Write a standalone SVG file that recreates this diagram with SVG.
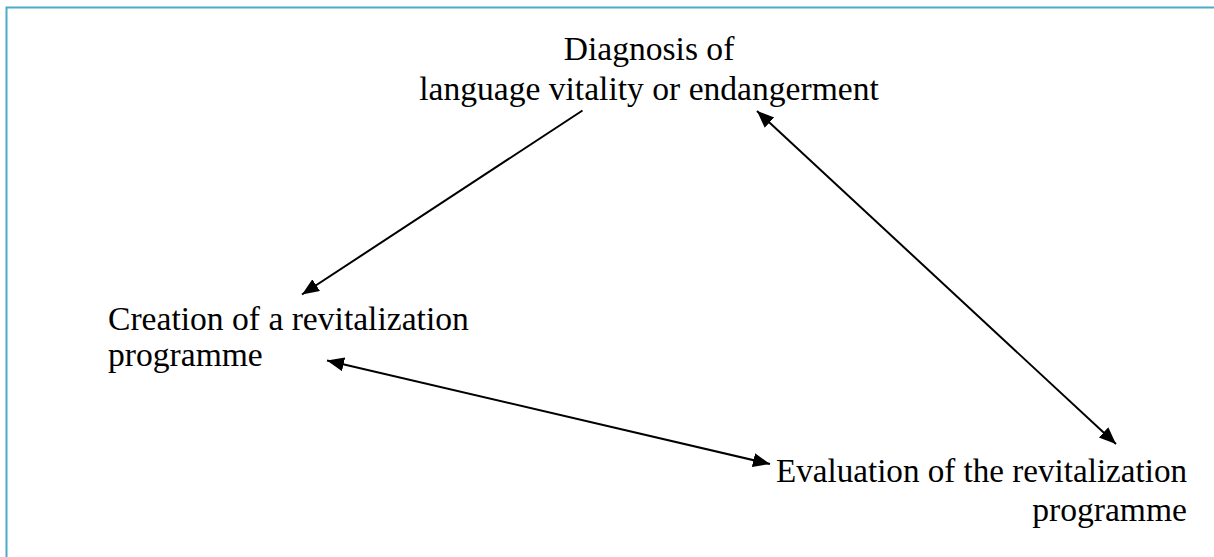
<svg xmlns="http://www.w3.org/2000/svg" width="1214" height="557" viewBox="0 0 1214 557">
<style>
.t{font-family:"Liberation Serif","Times New Roman",serif;font-size:33.6px;fill:#000}
.c{stroke:#000;stroke-width:2;fill:none}
.frame{stroke:#4bacc6;stroke-width:2;fill:none}
</style>
<defs>
<marker id="ah" markerUnits="userSpaceOnUse" markerWidth="19" markerHeight="15" refX="17" refY="7" orient="auto-start-reverse" viewBox="0 0 19 15">
<path d="M0,0 L17,7 L0,14 z" fill="#000"/>
</marker>
</defs>
<rect width="1214" height="557" fill="#fff"/>
<path class="frame" d="M6.5,557 L6.5,7.5 L1214,7.5"/>
<g id="connectors">
<line class="c" x1="582.5" y1="110.5" x2="302" y2="294.5" marker-end="url(#ah)"/>
<line class="c" x1="757" y1="111" x2="1116" y2="444" marker-start="url(#ah)" marker-end="url(#ah)"/>
<line class="c" x1="327" y1="360.5" x2="770" y2="464" marker-start="url(#ah)" marker-end="url(#ah)"/>
</g>
<g id="diagnosis">
<text class="t" x="649" y="60" text-anchor="middle">Diagnosis of</text>
<text class="t" x="649" y="100" text-anchor="middle">language vitality or endangerment</text>
</g>
<g id="creation">
<text class="t" x="108" y="330">Creation of a revitalization</text>
<text class="t" x="108" y="366">programme</text>
</g>
<g id="evaluation">
<text class="t" x="776" y="482" textLength="411" lengthAdjust="spacingAndGlyphs">Evaluation of the revitalization</text>
<text class="t" x="1187" y="521" text-anchor="end">programme</text>
</g>
</svg>
